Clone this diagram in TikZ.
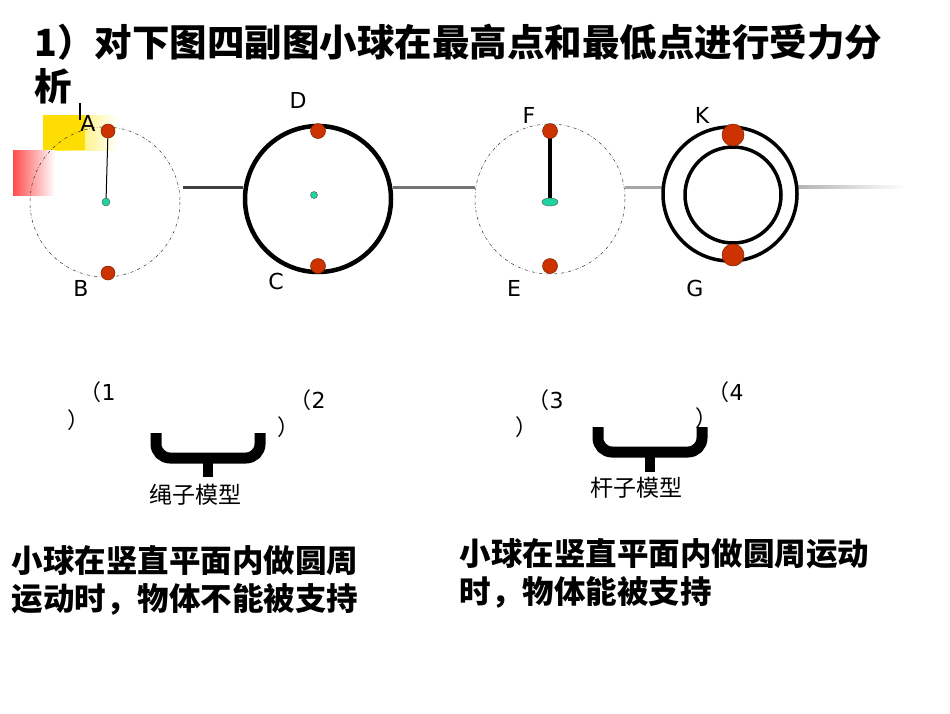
\documentclass[tikz,border=0pt]{standalone}
\usepackage{fontspec}
\setmainfont{DejaVu Sans}
\newfontfamily\cjk{Noto Sans CJK SC}
\definecolor{ball}{HTML}{CC3300}
\definecolor{dotc}{HTML}{1ED4A0}
\tikzset{
 ballst/.style={fill=ball,draw=ball!60!black,line width=0.5pt},
 guide/.style={dash dot,line width=0.5pt,draw=black!80},
 lbl/.style={font=\fontsize{22}{22}\selectfont},
 small/.style={font=\fontsize{22}{22}\selectfont},
 big/.style={font=\cjk\bfseries\fontsize{31.5}{38}\selectfont,anchor=west,align=left},
 brc/.style={line width=11pt,rounded corners=14pt},
}
\begin{document}
\begin{tikzpicture}[x=1pt,y=-1pt]
\useasboundingbox (0,0) rectangle (950,713);
% title
\node[anchor=west,font=\cjk\bfseries\fontsize{37.5}{40}\selectfont] (t1) at (31,42) {1）对下图四副图小球在最高点和最低点进行受力分};
\node[anchor=west,font=\cjk\bfseries\fontsize{37.5}{40}\selectfont] (t2) at (31,86) {析};
% decorative
\shade[left color=yellow!80!orange, right color=white] (43,115) rectangle (118,150);
\fill[yellow!80!orange] (43,115) rectangle (85,150);
\shade[left color=red!70, right color=white] (13,150) rectangle (55,195);
\draw[line width=2pt] (80,103) -- (80,120);
% horizontal line
\draw[line width=3pt,black!75] (183,187) -- (243,187);
\draw[line width=3pt,black!55] (393,187) -- (475,187);
\draw[line width=3pt,black!35] (625,187) -- (662,187);
\shade[left color=black!30,right color=white] (797,185.5) rectangle (905,188.5);
% circle 1
\draw[guide] (105,202) circle (75);
\coordinate (o1) at (106,202);
\node[circle,ballst,minimum size=14pt,inner sep=0] (A) at (108,131) {};
\node[circle,ballst,minimum size=14pt,inner sep=0] (B) at (108,273) {};
\draw[line width=1pt] (A) -- (o1);
\fill[dotc,draw=black!70,line width=0.4pt] (o1) circle (4);
\node[lbl] at (88,123) {A};
\node[lbl] at (81,288) {B};
% circle 2
\draw[line width=4.5pt] (318,199) circle (73);
\node[circle,ballst,minimum size=15pt,inner sep=0] (D) at (318,131) {};
\node[circle,ballst,minimum size=15pt,inner sep=0] (C) at (318,266) {};
\fill[dotc,draw=black!70,line width=0.4pt] (314,195) circle (3.5);
\node[lbl] at (298,100) {D};
\node[lbl] at (276,281) {C};
% circle 3
\draw[guide] (550,199) circle (75);
\coordinate (o3) at (550,202);
\draw[line width=3.5pt] (550,131) -- (o3);
\node[circle,ballst,minimum size=15pt,inner sep=0] (F) at (550,131) {};
\node[circle,ballst,minimum size=15pt,inner sep=0] (E) at (550,266) {};
\fill[dotc,draw=black!70,line width=0.4pt] (o3) ellipse (8 and 4);
\node[lbl] at (529,115) {F};
\node[lbl] at (514,288) {E};
% circle 4
\draw[line width=3.5pt] (730,194) circle (67);
\draw[line width=3.5pt] (733,195) circle (48);
\node[circle,ballst,minimum size=22pt,inner sep=0] (K) at (733,135) {};
\node[circle,ballst,minimum size=22pt,inner sep=0] (G) at (733,255) {};
\node[lbl] at (702,115) {K};
\node[lbl] at (695,288) {G};
% numbers
\node[small,anchor=west] at (76,392) {\cjk（\rmfamily 1};
\node[small,anchor=west] at (64,420) {\cjk ）};
\node[small,anchor=west] at (286,400) {\cjk（\rmfamily 2};
\node[small,anchor=west] at (274,427) {\cjk ）};
\node[small,anchor=west] at (524,400) {\cjk（\rmfamily 3};
\node[small,anchor=west] at (512,427) {\cjk ）};
\node[small,anchor=west] at (704,392) {\cjk（\rmfamily 4};
\node[small,anchor=west] at (692,418) {\cjk ）};
% braces
\draw[brc] (156,433) -- (156,458) -- (208,458) -- (260,458) -- (260,433);
\draw[line width=10pt] (208,456) -- (208,477);
\draw[brc] (598,427) -- (598,452) -- (650,452) -- (702,452) -- (702,427);
\draw[line width=10pt] (650,450) -- (650,472);
\node[font=\cjk\fontsize{23}{23}\selectfont] at (195,495) {绳子模型};
\node[font=\cjk\fontsize{23}{23}\selectfont] at (636,488) {杆子模型};
% bottom texts
\node[big] at (8,580) {小球在竖直平面内做圆周\\运动时，物体不能被支持};
\node[big] at (456,573) {小球在竖直平面内做圆周运动\\时，物体能被支持};
\end{tikzpicture}
\end{document}
